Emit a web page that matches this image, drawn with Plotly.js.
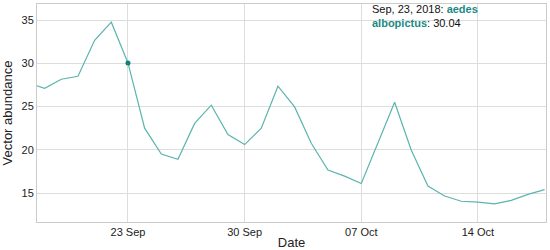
<!DOCTYPE html>
<html>
<head>
<meta charset="utf-8">
<script src="https://cdn.plot.ly/plotly-3.0.1.min.js"></script>
<style>html,body{margin:0;padding:0;background:#fff;}#chart{width:550px;height:250px;}</style>
</head>
<body>
<div id="chart"></div>
<script>
const dates = ["2018-09-17","2018-09-18","2018-09-19","2018-09-20","2018-09-21","2018-09-22","2018-09-23","2018-09-24","2018-09-25","2018-09-26","2018-09-27","2018-09-28","2018-09-29","2018-09-30","2018-10-01","2018-10-02","2018-10-03","2018-10-04","2018-10-05","2018-10-06","2018-10-07","2018-10-08","2018-10-09","2018-10-10","2018-10-11","2018-10-12","2018-10-13","2018-10-14","2018-10-15","2018-10-16","2018-10-17","2018-10-18"];
const abundance = [27.7,27.1,28.15,28.5,32.65,34.75,30.04,22.5,19.5,18.9,23.05,25.15,21.75,20.6,22.5,27.35,24.95,20.75,17.65,16.95,16.1,20.8,25.5,19.95,15.8,14.65,14.05,13.95,13.75,14.15,14.85,15.4];
const highlightDate = ["2018-09-23"];
const highlightValue = [30.04];
const xTickVals = ["2018-09-23","2018-09-30","2018-10-07","2018-10-14"];
const xTickText = ["23 Sep","30 Sep","07 Oct","14 Oct"];
const yTickVals = [15,20,25,30,35];

const traces = [
  {x: dates, y: abundance, type: 'scatter', mode: 'lines', line: {color: '#5bb5ad', width: 1.2}, hoverinfo: 'skip'},
  {x: highlightDate, y: highlightValue, type: 'scatter', mode: 'markers', marker: {color: '#0f7f78', size: 5}, hoverinfo: 'skip'}
];
const layout = {
  width: 550, height: 250,
  margin: {l: 37, r: 4, t: 4, b: 28},
  paper_bgcolor: '#fff', plot_bgcolor: '#fff',
  showlegend: false,
  font: {family: 'Liberation Sans, Arial, sans-serif', color: '#222', size: 11},
  xaxis: {
    type: 'date',
    range: ['2018-09-17 13:00', '2018-10-18 02:00'],
    tickvals: xTickVals, ticktext: xTickText,
    showgrid: true, gridcolor: '#dddddd', gridwidth: 1,
    showline: true, mirror: true, linecolor: '#cccccc', linewidth: 1,
    ticks: '', zeroline: false,
    tickfont: {size: 11, color: '#222'},
    title: {text: 'Date', font: {size: 13, color: '#222'}, standoff: 4}
  },
  yaxis: {
    range: [11.65, 36.85],
    tickvals: yTickVals,
    showgrid: true, gridcolor: '#dddddd', gridwidth: 1,
    showline: true, mirror: true, linecolor: '#cccccc', linewidth: 1,
    ticks: '', zeroline: false,
    tickfont: {size: 11, color: '#222'},
    title: {text: 'Vector abundance', font: {size: 13, color: '#222'}, standoff: 8}
  },
  annotations: [{
    xref: 'paper', yref: 'paper', x: 0.654, y: 1.012, xanchor: 'left', yanchor: 'top',
    showarrow: false, align: 'left',
    font: {size: 11, color: '#111'},
    text: "Sep, 23, 2018: <b><span style='color:#1a8a84'>aedes</span></b><br><b><span style='color:#1a8a84'>albopictus</span></b>: 30.04"
  }]
};
Plotly.newPlot('chart', traces, layout, {displayModeBar: false, staticPlot: true});
</script>
</body>
</html>
